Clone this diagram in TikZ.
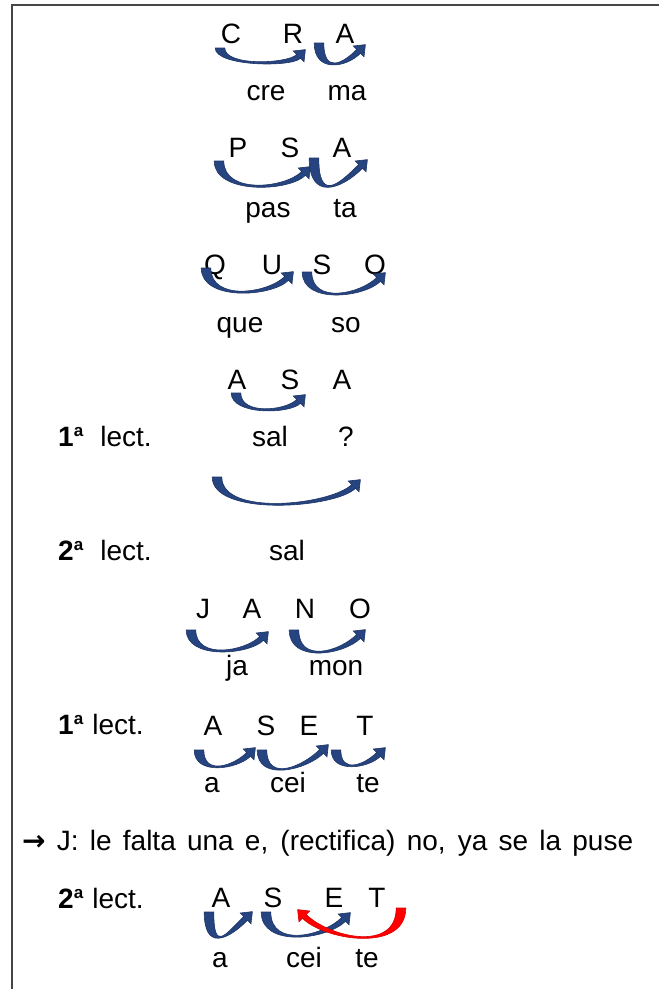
\documentclass[tikz,border=0pt]{standalone}
\usepackage{fontspec}
\setmainfont{Liberation Sans}
\newfontfamily\symfont{DejaVu Sans}
\definecolor{arrowblue}{RGB}{38,68,128}
\definecolor{arrowedge}{RGB}{30,52,100}
\definecolor{framegray}{RGB}{70,70,70}
\tikzset{
  lbl/.style={anchor=base, inner sep=0pt, font=\fontsize{28}{32}\selectfont},
  lectlbl/.style={anchor=base west, inner sep=0pt, font=\fontsize{28}{32}\selectfont},
  blockarrow/.style={fill=arrowblue, draw=arrowedge, line width=0.6pt},
  redarrow/.style={fill=red, draw=red!85!black, line width=0.6pt}
}
% #1 style, #2 direction (1 or -1), #3 x start, #4 y start, #5 x head base, #6 y head base, #7 y bottom
\newcommand{\curvarr}[7]{%
  \pgfmathsetmacro{\kk}{(#7-(#4+#6)/2)/0.53}%
  \pgfmathsetmacro{\mm}{0.5*\kk}%
  \path[#1] ({#3-(#2)*4.8},#4)
    .. controls ({#3-(#2)*4.8},{#4+\kk}) and ({#5-(#2)*\mm+(#2)*1.9},{#6+\mm+1.9})
    .. ({#5+(#2)*1.9},{#6+1.9})
    -- ({#5+(#2)*5.4},{#6+5.4})
    -- ({#5+(#2)*6.8},{#6-6.8})
    -- ({#5-(#2)*5.4},{#6-5.4})
    -- ({#5-(#2)*1.9},{#6-1.9})
    .. controls ({#5-(#2)*\mm-(#2)*1.9},{#6+\mm-1.9}) and ({#3+(#2)*4.8},{#4+\kk})
    .. ({#3+(#2)*4.8},#4) -- cycle;%
}
\newcommand{\ordlect}[2]{\textbf{#1}\raisebox{10pt}{\fontsize{17}{17}\selectfont\textbf{a}}\hspace{#2}lect.}
\begin{document}
\begin{tikzpicture}[x=1pt,y=-1pt]
\useasboundingbox (0,0) rectangle (659,989);
% frame
\draw[framegray, line width=2pt] (12,989) -- (12,5) -- (659,5);

% row 1: C R A
\node[lbl] (c1) at (231,43) {C};
\node[lbl] (r1) at (293,43) {R};
\node[lbl] (a1) at (345,43) {A};
\node[lbl] (cre) at (266,100) {cre};
\node[lbl] (ma) at (347,100) {ma};
\curvarr{blockarrow}{1}{220}{48}{298.6}{56.4}{62}
\curvarr{blockarrow}{1}{319}{43}{358.6}{51.4}{63}

% row 2: P S A
\node[lbl] (p2) at (238,157) {P};
\node[lbl] (s2) at (290,157) {S};
\node[lbl] (a2) at (342,157) {A};
\node[lbl] (pas) at (268,217) {pas};
\node[lbl] (ta) at (345,217) {ta};
\curvarr{blockarrow}{1}{219}{161}{303.6}{173.4}{185}
\curvarr{blockarrow}{1}{314}{158}{360.6}{166.4}{185}

% row 3: Q U S O
\node[lbl] (q3) at (215,274) {Q};
\node[lbl] (u3) at (272,274) {U};
\node[lbl] (s3) at (322,274) {S};
\node[lbl] (o3) at (375,274) {O};
\node[lbl] (que) at (240,332) {que};
\node[lbl] (so) at (346,332) {so};
\curvarr{blockarrow}{1}{206}{268}{286.6}{278.4}{291}
\curvarr{blockarrow}{1}{307}{272}{378.6}{279.4}{293}

% row 4: A S A
\node[lbl] (a4) at (237,389) {A};
\node[lbl] (s4) at (290,389) {S};
\node[lbl] (a4b) at (342,389) {A};
\curvarr{blockarrow}{1}{236}{393}{298.6}{401.4}{409}
\node[lectlbl] (lect1) at (58,446) {\ordlect{1}{17pt}};
\node[lbl] (sal1) at (270,446) {sal};
\node[lbl] (qm) at (346,446) {?};
\curvarr{blockarrow}{1}{217}{477}{353.6}{486.4}{503}
\node[lectlbl] (lect2) at (58,560) {\ordlect{2}{17pt}};
\node[lbl] (sal2) at (287,560) {sal};

% row 6: J A N O
\node[lbl] (j6) at (203,618) {J};
\node[lbl] (a6) at (252,618) {A};
\node[lbl] (n6) at (305,618) {N};
\node[lbl] (o6) at (360,618) {O};
\node[lbl] (ja) at (237,675) {ja};
\node[lbl] (mon) at (336,675) {mon};
\curvarr{blockarrow}{1}{191}{630}{261.6}{638.4}{650}
\curvarr{blockarrow}{1}{294}{630}{358.6}{636.4}{651}

% row 7: A S E T
\node[lectlbl] (lect3) at (58,734) {\ordlect{1}{9pt}};
\node[lbl] (a7) at (213,735) {A};
\node[lbl] (s7) at (266,735) {S};
\node[lbl] (e7) at (309,735) {E};
\node[lbl] (t7) at (365,735) {T};
\node[lbl] (a7l) at (212,792) {a};
\node[lbl] (cei7) at (288,792) {cei};
\node[lbl] (te7) at (368,792) {te};
\curvarr{blockarrow}{1}{199}{750}{248.6}{754.4}{766}
\curvarr{blockarrow}{1}{262}{750}{321.6}{751.4}{768}
\curvarr{blockarrow}{1}{336}{750}{378.6}{754.4}{765}

% comment line
\node[anchor=base west, inner sep=0pt, font=\fontsize{28}{32}\selectfont] (note) at (22,850)
  {\makebox[611pt][s]{{\symfont\bfseries →} J: le falta una e, (rectifica) no, ya se la puse}};

% row 8: A S E T
\node[lectlbl] (lect4) at (58,908) {\ordlect{2}{9pt}};
\node[lbl] (a8) at (221,907) {A};
\node[lbl] (s8) at (273,907) {S};
\node[lbl] (e8) at (334,907) {E};
\node[lbl] (t8) at (377,907) {T};
\node[lbl] (a8l) at (220,967) {a};
\node[lbl] (cei8) at (304,967) {cei};
\node[lbl] (te8) at (367,967) {te};
\curvarr{blockarrow}{1}{209}{912}{245.6}{918.4}{936}
\curvarr{blockarrow}{1}{266}{912}{343.6}{919.4}{935}
\curvarr{redarrow}{-1}{401}{908}{304.4}{916.4}{936}
\end{tikzpicture}
\end{document}
